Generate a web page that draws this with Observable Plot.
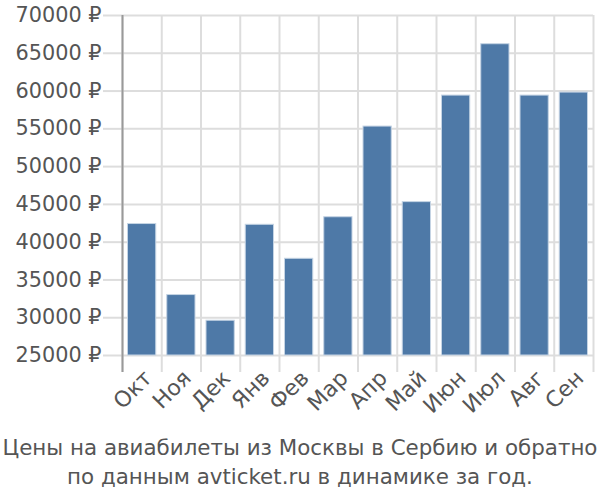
<!DOCTYPE html>
<html><head><meta charset="utf-8">
<script src="https://cdn.jsdelivr.net/npm/d3@7"></script>
<script src="https://cdn.jsdelivr.net/npm/@observablehq/plot@0.6"></script>
<style>
body{margin:0;background:#fff;font-family:"DejaVu Sans",sans-serif;}
#cap{width:600px;text-align:center;color:#555;font-size:21.4px;line-height:29px;margin-top:3px;white-space:nowrap;}
</style></head><body>
<div id="chart"></div>
<div id="cap">Цены на авиабилеты из Москвы в Сербию и обратно<br>по данным avticket.ru в динамике за год.</div>
<script>
const months = ["Окт","Ноя","Дек","Янв","Фев","Мар","Апр","Май","Июн","Июл","Авг","Сен"];
const prices = [42400, 33000, 29600, 42300, 37800, 43300, 55300, 45300, 59400, 66200, 59400, 59800];
const yTicks = [25000, 30000, 35000, 40000, 45000, 50000, 55000, 60000, 65000, 70000];

const data = months.map((m, i) => ({m, i, p: prices[i]}));
const bounds = d3.range(months.length + 1);
const base = yTicks[0];

const chart = Plot.plot({
  width: 600, height: 430,
  marginTop: 15, marginLeft: 122, marginRight: 7, marginBottom: 75,
  style: {fontFamily: '"DejaVu Sans", sans-serif', fontSize: "20px", background: "#fff", overflow: "visible"},
  x: {domain: [0, months.length], axis: null},
  y: {domain: [base, yTicks[yTicks.length - 1]], axis: null},
  marks: [
    Plot.gridY(yTicks, {stroke: "#ddd", strokeOpacity: 1, strokeWidth: 2}),
    Plot.axisY(yTicks, {label: null, tickSize: 19, tickPadding: 2, tickFormat: d => d + " ₽", stroke: "#ddd", strokeWidth: 2, fill: "#555", fontSize: 20.8}),
    Plot.gridX(bounds, {stroke: "#ddd", strokeOpacity: 1, strokeWidth: 2}),
    Plot.axisX(bounds, {label: null, tickSize: 17, tickFormat: () => "", stroke: "#ddd", strokeWidth: 2}),
    Plot.ruleX([0], {stroke: "#999", strokeWidth: 2, insetBottom: -17}),
    Plot.rectY(data, {x1: d => d.i, x2: d => d.i + 1, y1: base, y2: "p", fill: "#4e79a7", stroke: "#c5d4e4", strokeWidth: 1, insetLeft: 5.5, insetRight: 5.5}),
    Plot.text(data, {x: d => d.i + 0.5, y: base, text: "m", rotate: -45, textAnchor: "end", dx: 6, dy: 19, fill: "#555", fontSize: 22})
  ]
});
document.getElementById("chart").appendChild(chart);
</script>
</body></html>
